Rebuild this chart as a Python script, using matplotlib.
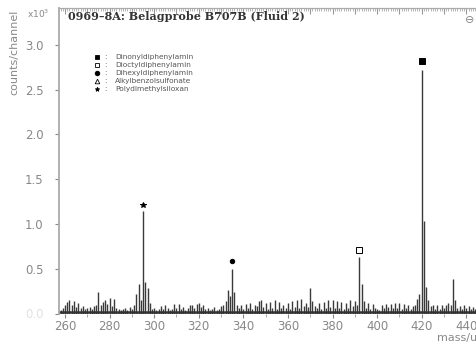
import matplotlib
matplotlib.use("Agg")
import matplotlib.pyplot as plt
import numpy as np

# ---- data (counts/channel in units of 10^3) ----
mass_start = 258
intensity = [
    0.04, 0.06, 0.10, 0.13, 0.15, 0.09, 0.14, 0.07, 0.12, 0.06,   # 258-267
    0.08, 0.05, 0.06, 0.07, 0.05, 0.08, 0.10, 0.24, 0.09, 0.13,   # 268-277
    0.15, 0.11, 0.17, 0.08, 0.16, 0.06, 0.05, 0.04, 0.05, 0.06,   # 278-287
    0.04, 0.07, 0.05, 0.10, 0.22, 0.33, 0.15, 1.14, 0.35, 0.28,   # 288-297
    0.12, 0.05, 0.06, 0.04, 0.05, 0.08, 0.05, 0.10, 0.06, 0.04,   # 298-307
    0.05, 0.11, 0.06, 0.11, 0.05, 0.07, 0.04, 0.06, 0.10, 0.09,   # 308-317
    0.06, 0.11, 0.12, 0.07, 0.10, 0.05, 0.06, 0.04, 0.05, 0.07,   # 318-327
    0.04, 0.05, 0.08, 0.10, 0.14, 0.26, 0.20, 0.50, 0.24, 0.10,   # 328-337
    0.06, 0.10, 0.05, 0.11, 0.06, 0.12, 0.05, 0.10, 0.08, 0.14,   # 338-347
    0.15, 0.07, 0.12, 0.05, 0.13, 0.06, 0.15, 0.05, 0.13, 0.06,   # 348-357
    0.10, 0.06, 0.12, 0.05, 0.14, 0.07, 0.15, 0.06, 0.16, 0.08,   # 358-367
    0.12, 0.07, 0.29, 0.14, 0.08, 0.06, 0.12, 0.05, 0.13, 0.06,   # 368-377
    0.15, 0.07, 0.15, 0.06, 0.14, 0.06, 0.13, 0.05, 0.12, 0.06,   # 378-387
    0.15, 0.08, 0.14, 0.10, 0.63, 0.33, 0.14, 0.06, 0.12, 0.05,   # 388-397
    0.11, 0.06, 0.05, 0.04, 0.10, 0.06, 0.11, 0.07, 0.11, 0.06,   # 398-407
    0.12, 0.06, 0.12, 0.05, 0.11, 0.06, 0.10, 0.05, 0.08, 0.10,   # 408-417
    0.16, 0.22, 2.72, 1.03, 0.30, 0.15, 0.08, 0.10, 0.05, 0.09,   # 418-427
    0.05, 0.10, 0.06, 0.09, 0.12, 0.10, 0.38, 0.15, 0.06, 0.08,   # 428-437
    0.05, 0.09, 0.06, 0.08, 0.05, 0.07, 0.05,                     # 438-444
]
masses = np.arange(mass_start, mass_start + len(intensity))

legend_labels = ["Dinonyldiphenylamin", "Dioctyldiphenylamin",
                 "Dihexyldiphenylamin", "Alkylbenzolsulfonate",
                 "Polydimethylsiloxan"]
legend_markers = ["s", "s", "o", "^", "*"]
legend_filled = [True, False, True, False, True]

peak_mass = [420, 392, 335, 295]
peak_mark_y = [2.82, 0.71, 0.59, 1.21]
peak_marker = ["s", "s", "o", "*"]
peak_filled = [True, False, True, True]

x_ticks = [260, 280, 300, 320, 340, 360, 380, 400, 420, 440]
y_ticks = [0.0, 0.5, 1.0, 1.5, 2.0, 2.5, 3.0]

title = "0969\u20138A: Belagprobe B707B (Fluid 2)"

# ---- figure ----
W, H = 477, 345
fig = plt.figure(figsize=(W / 100, H / 100), dpi=100)
ax = fig.add_axes([59 / W, 31.5 / H, 1 - 59 / W, (313.5 - 8) / H])
ax.set_xlim(257.3, 444.8)
ax.set_ylim(0, 3.41)

ax.vlines(masses, 0, intensity, color="#3a3a3a", lw=1.0)
ax.axhline(0.015, color="#333333", lw=1.8)

for m, y, mk, f in zip(peak_mass, peak_mark_y, peak_marker, peak_filled):
    size = {"s": 4.0, "o": 3.2, "*": 4.0}[mk]
    ax.plot([m], [y], marker=mk, ms=size,
            mfc="black" if f else "white", mec="black", mew=0.7, ls="none")

# spines
for s in ["right", "bottom"]:
    ax.spines[s].set_visible(False)
ax.spines["left"].set_color("#aaaaaa")
ax.spines["left"].set_linewidth(1.3)
ax.spines["top"].set_color("#aaaaaa")
ax.spines["top"].set_linewidth(0.8)

# bottom x axis: ticks out
ax.set_xticks(x_ticks)
ax.set_xticklabels([str(t) for t in x_ticks])
ax.set_xticks(np.arange(260, 445, 10), minor=True)
ax.tick_params(axis="x", which="major", direction="out", length=3, color="#888888",
               labelsize=8.5, labelcolor="#888888", pad=2)
ax.tick_params(axis="x", which="minor", direction="out", length=2, color="#999999")

# top axis: dense ticks pointing inwards
top = ax.secondary_xaxis("top")
top.set_xticks(np.arange(260, 445, 10))
top.set_xticks(np.arange(258, 445, 1), minor=True)
top.tick_params(which="major", direction="in", length=4, color="#999999",
                labeltop=False, width=0.8)
top.tick_params(which="minor", direction="in", length=2, color="#aaaaaa", width=0.6)
top.spines["top"].set_color("#aaaaaa")
top.spines["top"].set_linewidth(0.8)

ax.set_yticks(y_ticks)
ax.set_yticklabels(["0.0"] + [f"{t:.1f}" for t in y_ticks[1:]])
ax.tick_params(axis="y", direction="out", length=3, color="#888888",
               labelsize=8.5, labelcolor="#888888", pad=8)
ax.get_yticklabels()[0].set_alpha(0.25)

# texts
fig.text(68 / W, 1 - 17 / H, title, fontsize=8.0, fontweight="bold",
         family="DejaVu Serif", color="#333333", va="center", ha="left")
fig.text(470 / W, 1 - 20 / H, "\u2296", fontsize=8, color="#888888",
         ha="center", va="center")
fig.text(14 / W, 1 - 52 / H, "counts/channel", rotation=90, fontsize=8,
         color="#888888", ha="center", va="center")
fig.text(38 / W, 1 - 14 / H, "x10$^3$", fontsize=6.5, color="#888888",
         ha="center", va="center")
fig.text(1.0, 1 - 338 / H, "mass/u", fontsize=8, color="#888888",
         ha="right", va="center")

# legend
for i, (lab, mk, f) in enumerate(zip(legend_labels, legend_markers, legend_filled)):
    ypix = 57 + i * 8.1
    fy = 1 - ypix / H
    ax.plot([97 / W], [fy], marker=mk, ms=3.3, transform=fig.transFigure,
            mfc="black" if f else "white", mec="black", mew=0.6, clip_on=False)
    fig.text(104 / W, fy, ":", fontsize=5, color="#555555", va="center")
    fig.text(115 / W, fy, lab, fontsize=5.3, color="#555555", va="center")

fig.savefig("out.png", dpi=100)
